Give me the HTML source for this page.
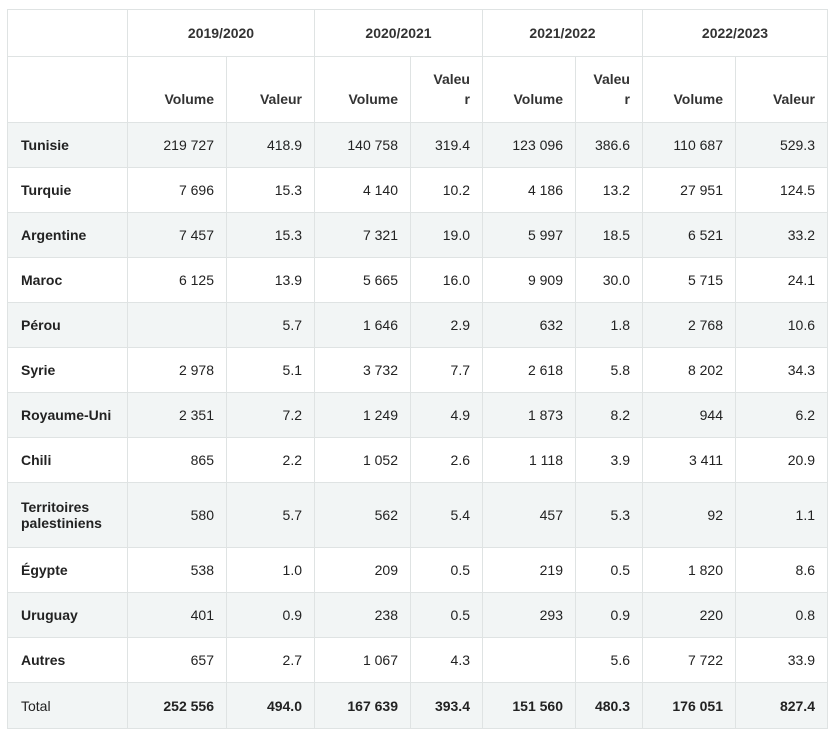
<!DOCTYPE html>
<html><head><meta charset="utf-8"><style>
html,body{margin:0;padding:0;background:#fff;width:838px;height:734px;overflow:hidden}
table{position:absolute;left:7px;top:9px;border-collapse:collapse;table-layout:fixed;font-family:"Liberation Sans",sans-serif;font-size:14px;color:#222}
td,th{border:1px solid #dfe3e3;padding:0 12px;text-align:right;height:44px;overflow:hidden}
th{font-weight:bold;color:#333}
thead tr.y th{text-align:center;height:46px}
thead tr.s th{vertical-align:bottom;padding-bottom:13px;height:52px;line-height:20px}
td.c{text-align:left;font-weight:bold;padding-left:13px}
tbody tr:nth-child(odd) td{background:#f2f5f5}
tr.tot td{font-weight:bold;height:45px}
tr.tot td.c{font-weight:normal}
tr.terr td{height:64px}
</style></head><body>
<table>
<colgroup><col style="width:120px"><col style="width:99px"><col style="width:88px"><col style="width:96px"><col style="width:72px"><col style="width:93px"><col style="width:67px"><col style="width:93px"><col style="width:92px"></colgroup>
<thead>
<tr class="y"><th></th><th colspan="2">2019/2020</th><th colspan="2">2020/2021</th><th colspan="2">2021/2022</th><th colspan="2">2022/2023</th></tr>
<tr class="s"><th></th><th>Volume</th><th>Valeur</th><th>Volume</th><th>Valeu<br>r</th><th>Volume</th><th>Valeu<br>r</th><th>Volume</th><th>Valeur</th></tr>
</thead>
<tbody>
<tr><td class="c">Tunisie</td><td>219 727</td><td>418.9</td><td>140 758</td><td>319.4</td><td>123 096</td><td>386.6</td><td>110 687</td><td>529.3</td></tr>
<tr><td class="c">Turquie</td><td>7 696</td><td>15.3</td><td>4 140</td><td>10.2</td><td>4 186</td><td>13.2</td><td>27 951</td><td>124.5</td></tr>
<tr><td class="c">Argentine</td><td>7 457</td><td>15.3</td><td>7 321</td><td>19.0</td><td>5 997</td><td>18.5</td><td>6 521</td><td>33.2</td></tr>
<tr><td class="c">Maroc</td><td>6 125</td><td>13.9</td><td>5 665</td><td>16.0</td><td>9 909</td><td>30.0</td><td>5 715</td><td>24.1</td></tr>
<tr><td class="c">Pérou</td><td></td><td>5.7</td><td>1 646</td><td>2.9</td><td>632</td><td>1.8</td><td>2 768</td><td>10.6</td></tr>
<tr><td class="c">Syrie</td><td>2 978</td><td>5.1</td><td>3 732</td><td>7.7</td><td>2 618</td><td>5.8</td><td>8 202</td><td>34.3</td></tr>
<tr><td class="c">Royaume-Uni</td><td>2 351</td><td>7.2</td><td>1 249</td><td>4.9</td><td>1 873</td><td>8.2</td><td>944</td><td>6.2</td></tr>
<tr><td class="c">Chili</td><td>865</td><td>2.2</td><td>1 052</td><td>2.6</td><td>1 118</td><td>3.9</td><td>3 411</td><td>20.9</td></tr>
<tr class="terr"><td class="c">Territoires palestiniens</td><td>580</td><td>5.7</td><td>562</td><td>5.4</td><td>457</td><td>5.3</td><td>92</td><td>1.1</td></tr>
<tr><td class="c">Égypte</td><td>538</td><td>1.0</td><td>209</td><td>0.5</td><td>219</td><td>0.5</td><td>1 820</td><td>8.6</td></tr>
<tr><td class="c">Uruguay</td><td>401</td><td>0.9</td><td>238</td><td>0.5</td><td>293</td><td>0.9</td><td>220</td><td>0.8</td></tr>
<tr><td class="c">Autres</td><td>657</td><td>2.7</td><td>1 067</td><td>4.3</td><td></td><td>5.6</td><td>7 722</td><td>33.9</td></tr>
<tr class="tot"><td class="c">Total</td><td>252 556</td><td>494.0</td><td>167 639</td><td>393.4</td><td>151 560</td><td>480.3</td><td>176 051</td><td>827.4</td></tr>
</tbody></table>
</body></html>
